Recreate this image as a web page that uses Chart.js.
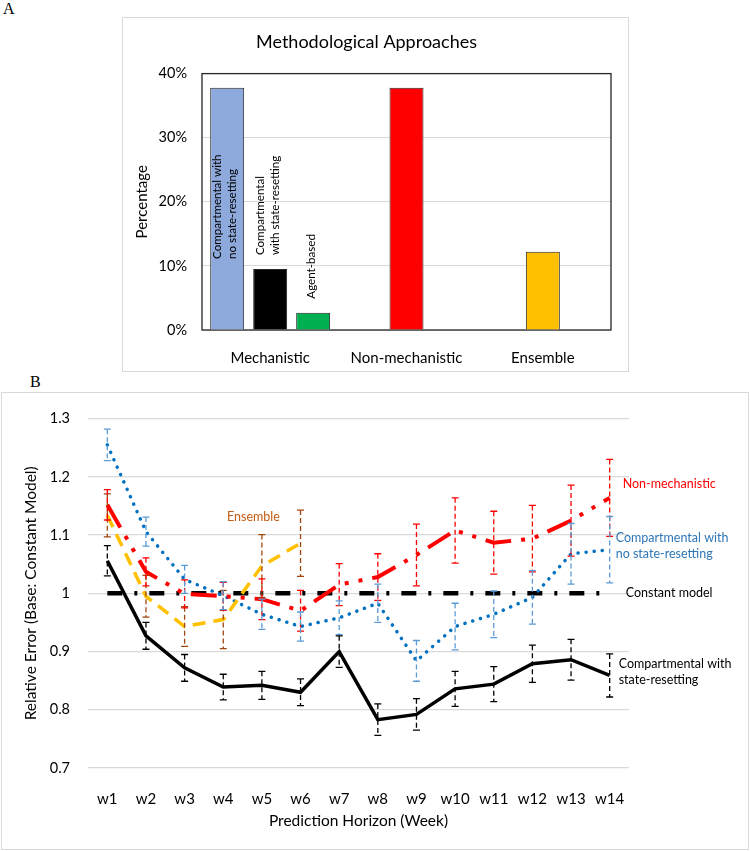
<!DOCTYPE html>
<html lang="en">
<head>
<meta charset="UTF-8">
<title>Methodological Approaches</title>
<style>
  body { margin: 0; background: #fff; width: 750px; height: 851px; position: relative; overflow: hidden; }
  .tag { position: absolute; font-family: 'Liberation Serif', serif; font-size: 16px; color: #000; }
  canvas { position: absolute; }
  #chartA { left: 122px; top: 17px; }
  #chartB { left: 1px; top: 392px; }
</style>
</head>
<body>
  <div class="tag" style="left:3px; top:0px;">A</div>
  <div class="tag" style="left:30px; top:373px;">B</div>
  <canvas id="chartA" width="507" height="355"></canvas>
  <canvas id="chartB" width="748" height="458"></canvas>

  <script src="https://cdn.jsdelivr.net/npm/chart.js"></script>
  <script>
    // ---- panel A data ----
    const groupLabels = ['Mechanistic', 'Non-mechanistic', 'Ensemble'];
    const approachNames = ['Compartmental with no state-resetting', 'Compartmental with state-resetting', 'Agent-based', 'Non-mechanistic', 'Ensemble'];
    const approachGroup = [0, 0, 0, 1, 2];
    const approachShare = [37.8, 9.5, 2.7, 37.8, 12.2];
    const approachColors = ['#8EA9DB', '#000000', '#00B050', '#FF0000', '#FFC000'];
    const barTexts = [['Compartmental with', 'no state-resetting'], ['Compartmental', 'with state-resetting'], ['Agent-based'], null, null];

    // ---- panel B data ----
    const weeks = ['w1', 'w2', 'w3', 'w4', 'w5', 'w6', 'w7', 'w8', 'w9', 'w10', 'w11', 'w12', 'w13', 'w14'];
    const resetErr   = [1.056, 0.927, 0.872, 0.839, 0.842, 0.830, 0.900, 0.783, 0.792, 0.836, 0.844, 0.879, 0.886, 0.859];
    const resetCI    = [0.026, 0.023, 0.023, 0.022, 0.024, 0.023, 0.027, 0.027, 0.027, 0.030, 0.030, 0.032, 0.035, 0.037];
    const noResetErr = [1.255, 1.106, 1.024, 0.996, 0.964, 0.943, 0.958, 0.983, 0.884, 0.943, 0.964, 0.993, 1.068, 1.075];
    const noResetCI  = [0.027, 0.025, 0.024, 0.024, 0.026, 0.025, 0.029, 0.033, 0.035, 0.040, 0.040, 0.046, 0.052, 0.057];
    const nonMechErr = [1.152, 1.037, 0.999, 0.995, 0.990, 0.970, 1.015, 1.028, 1.066, 1.108, 1.087, 1.094, 1.125, 1.164];
    const nonMechCI  = [0.026, 0.024, 0.024, 0.024, 0.035, 0.035, 0.036, 0.040, 0.053, 0.056, 0.054, 0.057, 0.061, 0.066];
    const ensembleErr = [1.134, 0.995, 0.943, 0.955, 1.047, 1.086, null, null, null, null, null, null, null, null];
    const ensembleCI  = [0.037, 0.036, 0.034, 0.050, 0.054, 0.057, null, null, null, null, null, null, null, null];
    const constantErr = [1, 1, 1, 1, 1, 1, 1, 1, 1, 1, 1, 1, 1, 1];

    const FONT = 'Lato, sans-serif';

    // light grey frame round each panel
    const frame = {
      id: 'frame',
      beforeDraw(chart) {
        const ctx = chart.ctx;
        ctx.save();
        ctx.strokeStyle = '#d9d9d9';
        ctx.lineWidth = 1;
        ctx.strokeRect(0.5, 0.5, chart.width - 1, chart.height - 1);
        ctx.restore();
      }
    };

    // black box round the plot area of panel A
    const plotBox = {
      id: 'plotBox',
      beforeDatasetsDraw(chart) {
        const a = chart.chartArea, ctx = chart.ctx;
        ctx.save();
        ctx.strokeStyle = '#262626';
        ctx.lineWidth = 1.3;
        ctx.strokeRect(a.left, a.top, a.right - a.left, a.bottom - a.top);
        ctx.restore();
      }
    };

    // rotated names on / above the mechanistic bars
    const barText = {
      id: 'barText',
      afterDatasetsDraw(chart) {
        const ctx = chart.ctx;
        const base = chart.scales.y.getPixelForValue(0);
        chart.data.datasets.forEach((ds, i) => {
          const lines = barTexts[i];
          if (!lines) return;
          const bar = chart.getDatasetMeta(i).data[approachGroup[i]];
          const start = i === 0 ? base - 71 : bar.y - 14;
          ctx.save();
          ctx.translate(bar.x, start);
          ctx.rotate(-Math.PI / 2);
          ctx.font = '11.6px ' + FONT;
          ctx.fillStyle = '#000';
          ctx.textAlign = 'left';
          ctx.textBaseline = 'middle';
          lines.forEach((t, k) => ctx.fillText(t, 0, (k - (lines.length - 1) / 2) * 15 - 2));
          ctx.restore();
        });
      }
    };

    let datasetsA = approachNames.map((name, i) => ({
      label: name,
      data: groupLabels.map((g, k) => (k === approachGroup[i] ? approachShare[i] : null)),
      backgroundColor: approachColors[i],
      borderColor: '#262626',
      borderWidth: 1,
      categoryPercentage: 0.946,
      barPercentage: 0.79,
      maxBarThickness: 34,
      skipNull: true
    }));

    new Chart(document.getElementById('chartA'), {
      type: 'bar',
      data: { labels: groupLabels, datasets: datasetsA },
      options: {
        responsive: false,
        animation: false,
        layout: { padding: { right: 18 } },
        plugins: {
          legend: { display: false },
          tooltip: { enabled: false },
          title: {
            display: true,
            text: 'Methodological Approaches',
            color: '#000',
            font: { family: FONT, size: 18, weight: 'normal' },
            padding: { top: 14, bottom: 21 }
          }
        },
        scales: {
          x: {
            grid: { display: false },
            border: { display: false },
            ticks: { color: '#000', font: { family: FONT, size: 15 }, padding: 11 },
            afterFit(s) { s.height = 42; }
          },
          y: {
            min: 0,
            max: 40,
            ticks: {
              stepSize: 10,
              color: '#000',
              padding: 15,
              font: { family: FONT, size: 14.5 },
              callback: v => v + '%'
            },
            grid: { color: '#d9d9d9', lineWidth: 1, drawTicks: false },
            border: { display: false },
            title: {
              display: true,
              text: 'Percentage',
              color: '#000',
              font: { family: FONT, size: 15 },
              padding: { top: 11 }
            },
            afterFit(s) { s.width = 80; }
          }
        }
      },
      plugins: [frame, plotBox, barText]
    });

    // ---- panel B ----
    const errorBars = {
      id: 'errorBars',
      afterDatasetsDraw(chart) {
        const ctx = chart.ctx, y = chart.scales.y;
        chart.data.datasets.forEach((ds, i) => {
          if (!ds.errors) return;
          const meta = chart.getDatasetMeta(i);
          meta.data.forEach((pt, k) => {
            const v = ds.data[k], e = ds.errors[k];
            if (v == null || e == null) return;
            const top = y.getPixelForValue(v + e), bot = y.getPixelForValue(v - e);
            ctx.save();
            ctx.strokeStyle = ds.errorColor;
            ctx.lineWidth = 1.3;
            ctx.setLineDash([5, 3]);
            ctx.beginPath();
            ctx.moveTo(pt.x, top);
            ctx.lineTo(pt.x, bot);
            ctx.stroke();
            ctx.setLineDash([]);
            ctx.beginPath();
            ctx.moveTo(pt.x - 3.5, top);
            ctx.lineTo(pt.x + 3.5, top);
            ctx.moveTo(pt.x - 3.5, bot);
            ctx.lineTo(pt.x + 3.5, bot);
            ctx.stroke();
            ctx.restore();
          });
        });
      }
    };

    const notes = [
      { lines: ['Non-mechanistic'], color: '#FF0000', x: 13, dx: 13, y: 1.188, align: 'left' },
      { lines: ['Compartmental with', 'no state-resetting'], color: '#2E75B6', x: 13, dx: 6, y: 1.095, align: 'left' },
      { lines: ['Constant model'], color: '#000', x: 13, dx: 16, y: 1.0, align: 'left' },
      { lines: ['Compartmental with', 'state-resetting'], color: '#000', x: 13, dx: 9, y: 0.879, align: 'left' },
      { lines: ['Ensemble'], color: '#C55A11', x: 3.78, dx: 0, y: 1.131, align: 'center' }
    ];

    const seriesNotes = {
      id: 'seriesNotes',
      afterDraw(chart) {
        const ctx = chart.ctx, xs = chart.scales.x, ys = chart.scales.y;
        ctx.save();
        ctx.font = '12.5px ' + FONT;
        ctx.textBaseline = 'middle';
        notes.forEach(n => {
          ctx.fillStyle = n.color;
          ctx.textAlign = n.align;
          const px = xs.getPixelForValue(n.x) + n.dx;
          const py = ys.getPixelForValue(n.y);
          n.lines.forEach((t, k) => ctx.fillText(t, px, py + k * 16));
        });
        ctx.restore();
      }
    };

    new Chart(document.getElementById('chartB'), {
      type: 'line',
      data: {
        labels: weeks,
        datasets: [
          {
            label: 'Ensemble', data: ensembleErr, errors: ensembleCI, errorColor: '#9E480E',
            borderColor: '#FFC000', borderWidth: 3.5, borderDash: [13, 8]
          },
          {
            label: 'Non-mechanistic', data: nonMechErr, errors: nonMechCI, errorColor: '#FF0000',
            borderColor: '#FF0000', borderWidth: 4, borderDash: [26, 10, 4, 10, 4, 10]
          },
          {
            label: 'Compartmental with no state-resetting', data: noResetErr, errors: noResetCI, errorColor: '#5B9BD5',
            borderColor: '#0070C0', borderWidth: 3.5, borderDash: [0.1, 8], borderCapStyle: 'round'
          },
          {
            label: 'Constant model', data: constantErr,
            borderColor: '#000000', borderWidth: 4.5, borderDash: [15, 12, 3, 12]
          },
          {
            label: 'Compartmental with state-resetting', data: resetErr, errors: resetCI, errorColor: '#000000',
            borderColor: '#000000', borderWidth: 3.5
          }
        ]
      },
      options: {
        responsive: false,
        animation: false,
        layout: { padding: { top: 19, right: 120 } },
        elements: { point: { radius: 0 }, line: { tension: 0 } },
        plugins: { legend: { display: false }, tooltip: { enabled: false } },
        scales: {
          x: {
            offset: true,
            grid: { display: false },
            border: { display: false },
            ticks: { color: '#000', font: { family: FONT, size: 15 }, padding: 14 },
            title: {
              display: true,
              text: 'Prediction Horizon (Week)',
              color: '#000',
              font: { family: FONT, size: 15.5 },
              padding: { bottom: 20 }
            },
            afterFit(s) { s.height = 82; }
          },
          y: {
            min: 0.7,
            max: 1.3,
            ticks: {
              stepSize: 0.1,
              color: '#000',
              padding: 18,
              font: { family: FONT, size: 14.5 },
              callback: v => String(Number(v.toFixed(1)))
            },
            grid: { color: '#d9d9d9', lineWidth: 1.3, drawTicks: false },
            border: { display: false },
            title: {
              display: true,
              text: 'Relative Error (Base: Constant Model)',
              color: '#000',
              font: { family: FONT, size: 15.5 },
              padding: { top: 21 }
            },
            afterFit(s) { s.width = 87; }
          }
        }
      },
      plugins: [frame, errorBars, seriesNotes]
    });
  </script>
</body>
</html>
